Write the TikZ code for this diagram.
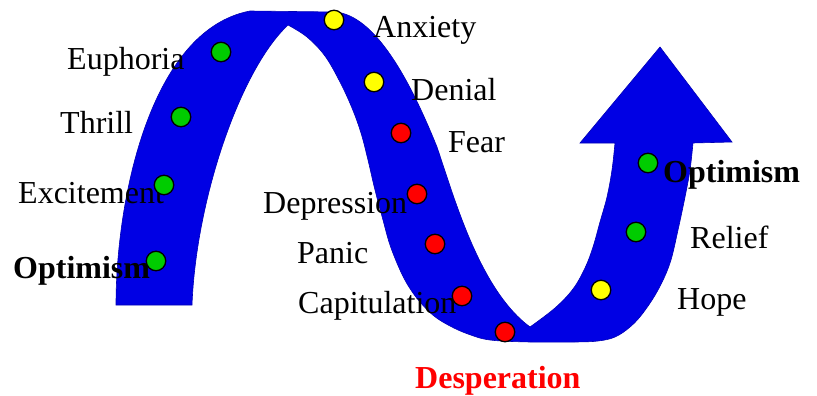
\documentclass[tikz,border=0pt]{standalone}
\usepackage{fontspec}
\setmainfont{Liberation Serif}
\definecolor{bandblue}{RGB}{0,0,228}
\definecolor{dotgreen}{RGB}{0,204,0}
\definecolor{dotyellow}{RGB}{255,255,0}
\definecolor{dotred}{RGB}{255,0,0}
\tikzset{
  dot/.style={circle, draw=black, line width=1.3pt, minimum size=19.5pt, inner sep=0pt},
  gdot/.style={dot, fill=dotgreen},
  ydot/.style={dot, fill=dotyellow},
  rdot/.style={dot, fill=dotred},
  lbl/.style={anchor=base west, inner sep=0pt, font=\fontsize{32}{36}\selectfont},
  blbl/.style={lbl, font=\fontsize{32}{36}\selectfont\bfseries},
}
\begin{document}
\begin{tikzpicture}[x=1pt,y=-1pt]
\useasboundingbox (0,0) rectangle (817,396);
% band
\fill[bandblue, draw=bandblue!80!black, line width=0.6pt]
  (116,305) .. controls (116,200) and (150,30) .. (250,11)
  -- (335,12) .. controls (375,15) and (410,80) .. (437,147)
  .. controls (455,200) and (480,290) .. (530,327)
  -- plot[smooth, tension=0.6] coordinates {(530,327) (555,308) (573,289) (585,268) (593,247) (600,222) (607,197) (612,170) (615,143)}
  -- (580,143) -- (660,47) -- (732,142) -- (693,143)
  -- plot[smooth, tension=0.6] coordinates {(693,143) (690,170) (685,197) (678,230) (670,263) (658,290) (643,313) (630,327) (615,337) (598,341) (575,342) (530,342) (490,340) (468,334) (450,326) (434,316) (420,302) (409,287) (400,270) (390,245) (383,220) (375,190) (368,160) (361,133) (352,108) (340,82) (325,56) (307,37) (288,25)}
  .. controls (240,70) and (196,200) .. (192,305)
  -- cycle;
% labels
\node[lbl] (euphoria) at (67,70) {Euphoria};
\node[lbl] (thrill) at (60,133) {Thrill};
\node[lbl] (excitement) at (18,203) {Excitement};
\node[blbl] (optimism1) at (13,278) {Optimism};
\node[lbl] (anxiety) at (373,38) {Anxiety};
\node[lbl] (denial) at (411,100) {Denial};
\node[lbl] (fear) at (448,152) {Fear};
\node[lbl] (depression) at (263,213) {Depression};
\node[lbl] (panic) at (297,263) {Panic};
\node[lbl] (capitulation) at (298,313) {Capitulation};
\node[blbl, text=dotred] (desperation) at (415,388) {Desperation};
\node[lbl] (hope) at (677,309) {Hope};
\node[lbl] (relief) at (690,248) {Relief};
\node[blbl] (optimism2) at (663,182) {Optimism};
% dots
\node[gdot] (d1) at (221,52) {};
\node[gdot] (d2) at (181,117) {};
\node[gdot] (d3) at (164,185) {};
\node[gdot] (d4) at (156,261) {};
\node[ydot] (d5) at (334,20) {};
\node[ydot] (d6) at (374,82) {};
\node[rdot] (d7) at (401,133) {};
\node[rdot] (d8) at (417,194) {};
\node[rdot] (d9) at (435,244) {};
\node[rdot] (d10) at (462,296) {};
\node[rdot] (d11) at (505,332) {};
\node[ydot] (d12) at (601,290) {};
\node[gdot] (d13) at (636,232) {};
\node[gdot] (d14) at (648,163) {};
\end{tikzpicture}
\end{document}
